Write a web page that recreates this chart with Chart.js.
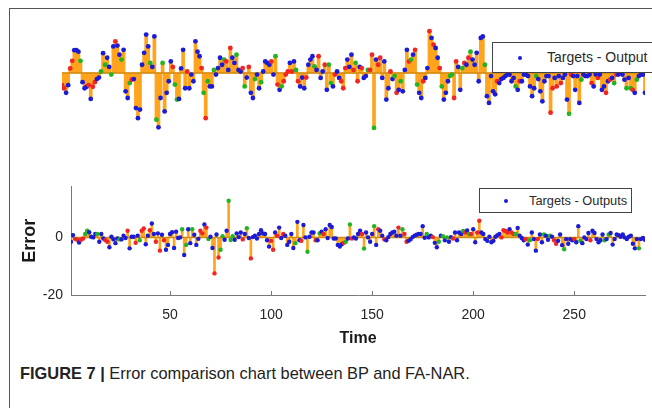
<!DOCTYPE html>
<html>
<head>
<meta charset="UTF-8">
<title>Error comparison chart</title>
<script src="https://cdn.jsdelivr.net/npm/chart.js"></script>
<style>
  body { margin: 0; width: 652px; height: 408px; overflow: hidden; background: #fff; position: relative;
         font-family: 'Liberation Sans', Arial, sans-serif; }
  #frame { position: absolute; left: 9px; top: 8px; width: 700px; height: 450px;
           border-top: 1px solid #555; border-left: 1px solid #555; }
  #topChart { position: absolute; left: 0; top: 0; }
  #botChart { position: absolute; left: 0; top: 170px; }
  .legend { position: absolute; background: #fff; border: 1px solid #444; color: #2a2a2a; }
  .legend .dot { position: absolute; width: 4px; height: 4px; border-radius: 50%; background: #1c1cd6; }
  .legend .txt { position: absolute; white-space: nowrap; }
  #legTop { left: 492px; top: 42px; width: 200px; height: 29px; }
  #legTop .dot { left: 25px; top: 13px; }
  #legTop .txt { left: 54px; top: 6px; font-size: 14px; }
  #legBot { left: 479px; top: 188px; width: 151px; height: 23px; }
  #legBot .dot { left: 24px; top: 10px; }
  #legBot .txt { left: 49px; top: 4px; font-size: 12.8px; }
  #caption { position: absolute; left: 20px; top: 363px; font-size: 16.4px; line-height: 20px; color: #222; white-space: nowrap; }
</style>
</head>
<body>
<div id="frame"></div>
<canvas id="topChart" width="652" height="150"></canvas>
<canvas id="botChart" width="652" height="190"></canvas>
<div class="legend" id="legTop"><div class="dot"></div><span class="txt">Targets - Output</span></div>
<div class="legend" id="legBot"><div class="dot"></div><span class="txt">Targets - Outputs</span></div>
<div id="caption"><b>FIGURE 7 |</b> Error comparison chart between BP and FA-NAR.</div>

<script>
var xMax = 285;
var xTicks = [50, 100, 150, 200, 250];
var yTicks = [-20, 0];

// upper panel (BP) errors
var topErr = [
  -4, -5, -6.5, -4, 1.5, 4, 7.5, 7.5, 7, 4,
  -3, -5, -4.5, -4, -8.5, -4.5, -3, -2, -1.5, 0.5,
  6.5, 2.7, 5, 2, -0.5, 8.7, 10.4, 9, 6, 4.4,
  7.6, -6, -8.2, -3.3, -2.2, -2, -11.5, -14.8, -12, 2.7,
  6.6, 12.6, 8.7, 3.3, 2, 12, -15.3, -17.8, -8.2, 3.3,
  -12.6, -6.5, -2.7, 3.8, 2, -3.8, -8.7, -8.5, 1.5, 7.6,
  -5, 0.5, -5, -0.5, -2.7, 10.4, 7, 5.5, 1.6, -6.5,
  -14.8, -2.7, -4.4, -4.4, 1, -0.5, 1.6, 5, 2.7, 4.4,
  3.8, 1, 8.2, 5, 3.3, 6, 1, 0.5, 1.6, -4.4,
  -1.5, 2, -6.5, -8.2, -2, -0.5, -5, -3, 0.5, 3.8,
  3.3, 2.7, 3.8, -0.5, 5.5, -3.8, -5.5, -4.4, -2.7, -0.5,
  0.5, 3.3, 0.5, 3.8, 1, -2.7, -4.4, -1.5, -5, -1.5,
  2.7, 4.4, 5.5, 2.2, 1, 5.5, -1.6, 0.5, 2.7, -5.5,
  2.7, -3.3, -4.4, -0.5, 0.5, -1.6, -2.7, -5, 1.6, 4.4,
  2, 6, 1, 3.3, -2.7, 2, 1.6, -1.6, -1, 1,
  1, 6, -18, 4.4, 2.7, 5, -1.6, 3.8, -8.7, -5,
  0.5, -2, -1, -6.5, -5.5, -2.7, -6, 1, 7.6, 3.8,
  4.4, 6, 7.6, -3.8, -6.5, -8.2, -2.7, -1.6, 1.6, 13.7,
  11.5, 9.3, 8.2, 5, 1.6, -4.4, -8.7, -6.5, -2.7, -1,
  -0.5, -8.2, 3.8, 2, -5.5, 1.6, 3.3, 2.7, 5, 7,
  4.4, 2.7, 6.6, -2.7, 11.5, 12, 2.7, -7.6, -9.8, -1,
  -6, -7, -2.7, -3.3, -2, -1.6, -1, -0.5, -0.5, -2.7,
  -1.6, -4.4, -5.5, -2.7, -2.7, -0.5, -0.5, -1, -4.4, -7.6,
  -5, -1, -2, -6, -9.3, -2.7, -1, -1, -13, -5,
  -1.6, -4.4, -1, -3.3, -1.6, -0.5, -8.7, -13.4, -0.5, -1,
  -5.5, -1, -9.8, -2.2, -0.5, -1, -1, -0.5, -3.3, -4.4,
  -0.5, -1.6, -0.5, -5.5, -4.4, -6.5, -2.7, -2.2, -1.6, -3.3,
  -0.5, -0.5, 0, -0.5, -2.2, -5, -1.6, -5, -5.5, -6.5,
  -2.2, -1, -0.5, -0.5, -6.5
];
// b = training, g = validation, r = test
var topClr = (
  'rrbbrrbbbg' + 'bbbrbrrbbg' + 'bgbbgbrbbg' + 'bbbgrbbbbb' + 'bbbgbbgbbg' +
  'bbbbrggbbb' + 'brbbbbbbrg' + 'rgbbgbbbbg' + 'rbrbbgbbrg' + 'brbbgbbgbb' +
  'bbrbgrbgrr' + 'rbrbgrbbbr' + 'bbbgbrbbrb' + 'ggbrbbrrrb' + 'bbrgrbrbbg' +
  'rrgbrrbbbb' + 'rbgrbgbbbr' + 'gbrgbbrbbr' + 'brbbrgbbbg' + 'grrbbgrbrg' +
  'bbbbbbgbbb' + 'bbrbbbbbbb' + 'bgbrbbbbbb' + 'bgbbbbbbrr' + 'brbrbbbgrb' +
  'bbbgbbbbrb' + 'brbbbrbrbg' + 'rbbbbgbgrb' + 'gbbbb'
).split('');

// lower panel (FA-NAR) errors
var botErr = [
  -1.5, 0.8, -0.5, -0.8, -1.8, -0.8, -0.4, 1.2, 2.3, 1.8,
  0.2, 0, 1.2, 1.2, -1.5, 1.2, -0.4, -1, -1.5, -3.4,
  0.2, -0.7, -2, -0.4, -0.7, -0.7, 0.6, -0.2, 2.3, -3.8,
  0.2, 0.2, -1.9, 0.6, -1, 2.3, 3.1, -2.4, 0.6, 2.5,
  4.8, 1.2, -1.5, 1.4, -4.6, 0.9, -1, -4.3, -2.6, 1.2,
  1.8, -3.7, 2, -0.2, 0, 2.8, -6.1, -2.6, 2.8, -2,
  2.8, 0.9, -2.6, -0.5, 2.3, 1.4, 4.5, 3.4, -0.6, 0.2,
  -3.7, -12.5, 1, -7, -4.3, 0.4, -0.8, 2.3, 12.7, -0.9,
  0.4, -0.8, 1.4, 0.1, 1.7, -0.7, 1.2, 3.2, -0.2, -7.3,
  0.1, 0.6, -0.4, 1.2, 2.5, 1.4, 1.2, -1, -3.2, -1.2,
  -4.3, 1.7, 0.6, 3.4, -0.2, 1.2, 0.6, -2.6, -1.5, 1.2,
  -3.7, -2, 5.4, -1, -1.2, 4.3, 0, -5, 0.2, 1.7,
  1.7, -1, -1, 1.4, 2, 1.2, 2.8, -0.2, 4.3, 3.6,
  -0.4, -0.4, -2.6, -3.2, -2.4, -1.9, -1.5, -0.4, 4.5, -0.4,
  0, -0.4, 1.2, 2.3, 1.2, -3.9, 1.7, 0, -1.5, 1.2,
  3.9, -2.6, 2.8, 2.3, 0.6, -0.7, -1, 0.1, 1.2, 1.7,
  2, 0.6, 3.4, 0.6, 2.8, 1.2, -1.5, -1.2, -0.7, 0.1,
  0.6, 0.9, 1.2, 1.2, 3.9, -0.1, 1.2, 0, 0.6, 0.1,
  -1.9, -3.4, -1.5, 0.6, 0.4, -1, 0, -1.5, 0.1, -0.4,
  1.7, -1, 1.7, 1.2, 2.2, 1.7, 2.4, 1.2, 1.2, 2.8,
  -1.7, 1.7, 5.8, 1.7, 1.2, -0.6, -1.2, 0.2, -1.7, -1.2,
  0.2, 0.8, 1.2, 0, 2.5, 2.2, 1.7, 2.8, 1.7, 1.2,
  1.2, 3.3, 0.6, -0.2, -1, -0.6, -2.5, -1, 1.7, -0.6,
  -4.6, -0.6, 1, -1.7, 1, 0.6, -0.8, 0.6, 0.2, -1,
  -2.2, -1.2, 1, -2.7, -4.1, -0.6, -2.2, -0.6, -1, -0.6,
  -1.7, 3.9, -1.2, -2, 0, -0.6, 1.5, -1, 2.3, 1.5,
  -0.6, -1.7, -1, 1, -1, -0.6, 1, 1.5, -2.5, -0.6,
  1, 0.8, 0.2, 1, 0, -0.6, 0.2, 0.6, -2.2, -3.8,
  -0.6, -3.8, -0.6, -0.2, -0.8
];
var botClr = (
  'bbrrbrrggb' + 'bbbgbbbrrb' + 'bbbbgbbbrb' + 'bbrbgrrbbr' + 'bbrbrbrbbb' +
  'bbbbbgbgbb' + 'gbbbrrbrgb' + 'brbrggbbgg' + 'gbbbbrbgbr' + 'bbbbbbbbbr' +
  'rbrbbrbbbb' + 'bgbbrbbgbb' + 'brbgbrbbbb' + 'bbbbbrgbgr' + 'bbbbrgbbbb' +
  'gbrbbrbbbb' + 'bbrbgrrbbb' + 'bbbbbbgbbr' + 'bbgbgbgbbr' + 'bbbbgrbgrb' +
  'brrbbbbbbb' + 'bbbrrrrbrr' + 'gbbbbrbgbb' + 'brbbgbbgbr' + 'rbbbgbbbbr' +
  'bbgbbbbrbb' + 'bbbbgbgbbb' + 'bbbbbbbbbb' + 'bgbbb'
).split('');

var dotColors = { b: '#1c1cd6', r: '#f22424', g: '#22b422' };
var stemColor = '#ffa41c';

function pts(vals) {
  return vals.map(function(v, i) { return { x: i + 1, y: v }; });
}

function makeSets(vals, clr, stemW, dotR) {
  return [
    { type: 'line', data: pts(vals), showLine: false, pointRadius: dotR, pointBorderWidth: 0,
      pointBackgroundColor: clr.map(function(c) { return dotColors[c]; }), order: 0 },
    { type: 'line', data: [{ x: 1, y: 0 }, { x: xMax, y: 0 }], borderColor: '#d08b14',
      borderWidth: 1.5, pointRadius: 0, order: 1 },
    { type: 'bar', data: pts(vals), backgroundColor: stemColor, barThickness: stemW, order: 2 }
  ];
}

// MATLAB style ticks pointing into the axes
var innerTicks = {
  id: 'innerTicks',
  afterDraw: function(chart) {
    var ctx = chart.ctx, xs = chart.scales.x, ys = chart.scales.y, a = chart.chartArea;
    ctx.save();
    ctx.strokeStyle = '#777';
    ctx.lineWidth = 1;
    ctx.beginPath();
    xTicks.forEach(function(v) {
      var px = Math.round(xs.getPixelForValue(v)) + 0.5;
      ctx.moveTo(px, a.bottom); ctx.lineTo(px, a.bottom - 4);
    });
    yTicks.forEach(function(v) {
      var py = Math.round(ys.getPixelForValue(v)) + 0.5;
      ctx.moveTo(a.left, py); ctx.lineTo(a.left + 4, py);
    });
    ctx.stroke();
    ctx.restore();
  }
};

Chart.defaults.font.family = "'Liberation Sans', Arial, sans-serif";

new Chart(document.getElementById('topChart'), {
  type: 'bar',
  data: { datasets: makeSets(topErr, topClr, 3, 2.4) },
  options: {
    responsive: false, animation: false, events: [],
    layout: { padding: { left: 62, right: 7, top: 12, bottom: 16 } },
    plugins: { legend: { display: false }, tooltip: { enabled: false } },
    scales: {
      x: { type: 'linear', min: 1, max: xMax, offset: false, display: false },
      y: { min: -20, max: 20, display: false }
    }
  }
});

new Chart(document.getElementById('botChart'), {
  type: 'bar',
  data: { datasets: makeSets(botErr, botClr, 2, 2.2) },
  plugins: [innerTicks],
  options: {
    responsive: false, animation: false, events: [],
    layout: { padding: { left: 0, right: 7, top: 10, bottom: 0 } },
    plugins: { legend: { display: false }, tooltip: { enabled: false } },
    scales: {
      x: {
        type: 'linear', min: 1, max: xMax, offset: false,
        grid: { display: false, drawTicks: false, offset: false },
        border: { color: '#777', width: 1 },
        afterBuildTicks: function(s) { s.ticks = xTicks.map(function(v) { return { value: v }; }); },
        afterFit: function(s) { s.height = 65; },
        ticks: { color: '#262626', font: { size: 14 }, padding: 12, maxRotation: 0, autoSkip: false },
        title: { display: true, text: 'Time', color: '#1a1a1a', font: { size: 16, weight: 'bold' },
                 padding: { top: 0, bottom: 12 } }
      },
      y: {
        min: -20, max: 17.7,
        grid: { display: false, drawTicks: false },
        border: { color: '#777', width: 1 },
        afterBuildTicks: function(s) { s.ticks = yTicks.map(function(v) { return { value: v }; }); },
        afterFit: function(s) { s.width = 71; },
        ticks: { color: '#262626', font: { size: 14 }, padding: 8 },
        title: { display: true, text: 'Error', color: '#1a1a1a', font: { size: 18, weight: 'bold' },
                 padding: { top: 19, bottom: 0 } }
      }
    }
  }
});
</script>
</body>
</html>
